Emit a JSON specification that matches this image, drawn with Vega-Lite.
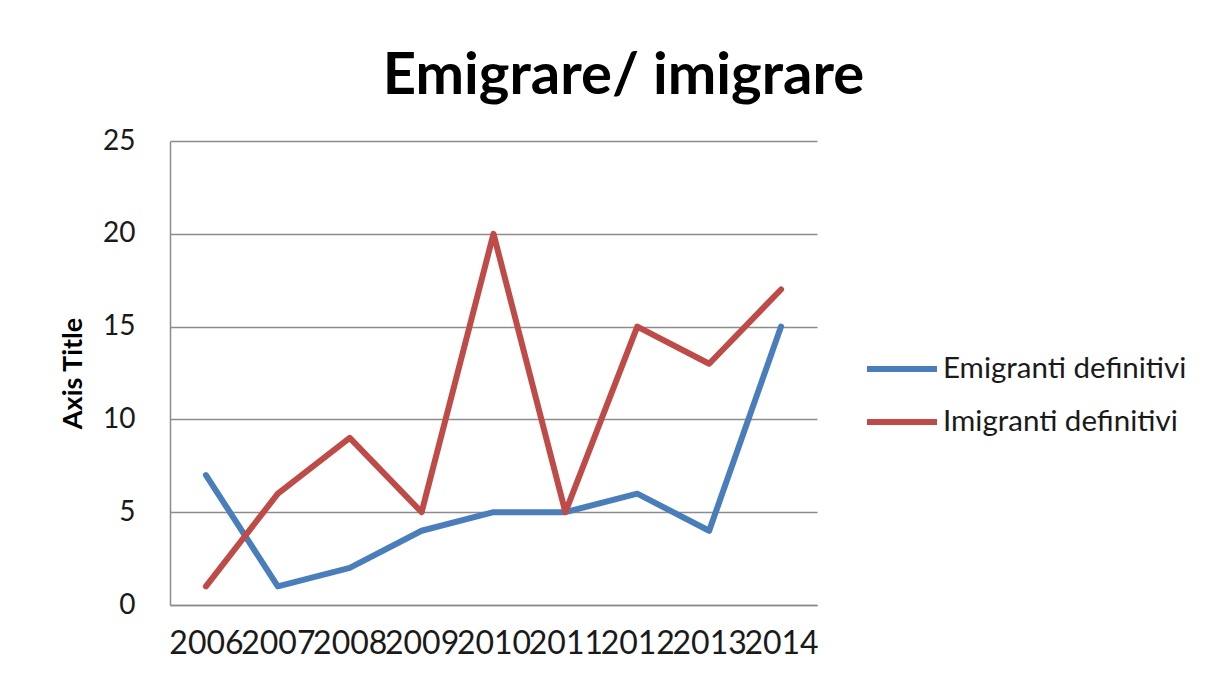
{
  "$schema": "https://vega.github.io/schema/vega-lite/v6.json",
  "width": 647,
  "height": 464,
  "autosize": {"type": "none"},
  "padding": {"left": 170, "top": 141, "right": 414, "bottom": 71},
  "background": "white",
  "config": {
    "view": {"stroke": null},
    "font": "Lato"
  },
  "title": {
    "text": "Emigrare/ imigrare",
    "font": "Lato",
    "fontSize": 58,
    "fontWeight": "bold",
    "color": "#000000",
    "anchor": "middle",
    "frame": "group",
    "dx": 130,
    "baseline": "alphabetic",
    "offset": -25
  },
  "data": {
    "values": [
      {"year": "2006", "series": "Emigranti definitivi", "value": 7},
      {"year": "2007", "series": "Emigranti definitivi", "value": 1},
      {"year": "2008", "series": "Emigranti definitivi", "value": 2},
      {"year": "2009", "series": "Emigranti definitivi", "value": 4},
      {"year": "2010", "series": "Emigranti definitivi", "value": 5},
      {"year": "2011", "series": "Emigranti definitivi", "value": 5},
      {"year": "2012", "series": "Emigranti definitivi", "value": 6},
      {"year": "2013", "series": "Emigranti definitivi", "value": 4},
      {"year": "2014", "series": "Emigranti definitivi", "value": 15},
      {"year": "2006", "series": "Imigranti definitivi", "value": 1},
      {"year": "2007", "series": "Imigranti definitivi", "value": 6},
      {"year": "2008", "series": "Imigranti definitivi", "value": 9},
      {"year": "2009", "series": "Imigranti definitivi", "value": 5},
      {"year": "2010", "series": "Imigranti definitivi", "value": 20},
      {"year": "2011", "series": "Imigranti definitivi", "value": 5},
      {"year": "2012", "series": "Imigranti definitivi", "value": 15},
      {"year": "2013", "series": "Imigranti definitivi", "value": 13},
      {"year": "2014", "series": "Imigranti definitivi", "value": 17}
    ]
  },
  "mark": {"type": "line", "strokeWidth": 6, "strokeJoin": "round", "strokeCap": "round"},
  "encoding": {
    "x": {
      "field": "year",
      "type": "ordinal",
      "scale": {"type": "point", "padding": 0.5},
      "axis": {
        "title": null,
        "labelAngle": 0,
        "labelFontSize": 32,
        "labelColor": "#1a1a1a",
        "labelOverlap": false,
        "labelPadding": 23,
        "ticks": false,
        "domainColor": "#8c8c8c",
        "domainWidth": 1.5,
        "grid": false
      }
    },
    "y": {
      "field": "value",
      "type": "quantitative",
      "scale": {"domain": [0, 25], "nice": false},
      "axis": {
        "values": [0, 5, 10, 15, 20, 25],
        "title": "Axis Title",
        "titleFontSize": 27,
        "titleFontWeight": "bold",
        "titleColor": "#000000",
        "titleAngle": -90,
        "titleAlign": "center",
        "titleBaseline": "middle",
        "titleX": -97,
        "titleY": 232,
        "labelFontSize": 28,
        "labelColor": "#1a1a1a",
        "labelPadding": 35,
        "ticks": false,
        "domainColor": "#8c8c8c",
        "domainWidth": 1.5,
        "grid": true,
        "gridColor": "#8c8c8c",
        "gridWidth": 1.5
      }
    },
    "color": {
      "field": "series",
      "type": "nominal",
      "scale": {
        "domain": ["Emigranti definitivi", "Imigranti definitivi"],
        "range": ["#4a7ebb", "#be4b48"]
      },
      "legend": {
        "title": null,
        "orient": "none",
        "legendX": 694,
        "legendY": 190,
        "symbolType": "stroke",
        "symbolSize": 4900,
        "symbolStrokeWidth": 6,
        "labelFontSize": 29.5,
        "labelLimit": 400,
        "labelColor": "#1a1a1a",
        "labelOffset": 3,
        "rowPadding": -6
      }
    }
  }
}
